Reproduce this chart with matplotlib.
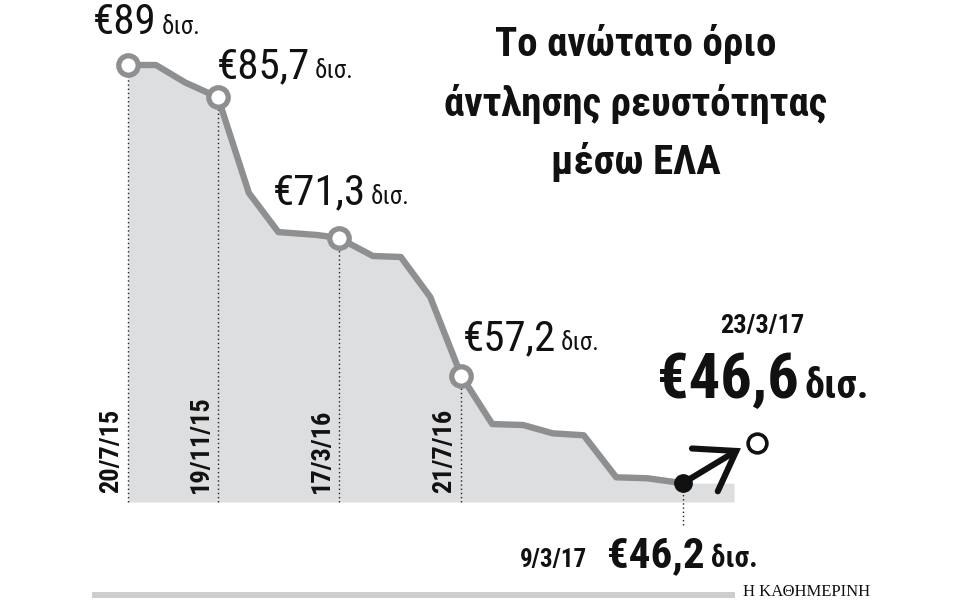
import matplotlib
matplotlib.use("Agg")
import matplotlib.pyplot as plt
from matplotlib import font_manager
from matplotlib.transforms import offset_copy
from matplotlib.patches import Rectangle

# ELA ceiling (bn euro), points along the line, spaced by decision
steps = [0, 0.9, 1.85, 2.9, 3.9, 4.85, 6.1, 6.8, 7.9, 8.8, 9.75,
         10.75, 11.75, 12.75, 13.7, 14.7, 15.75, 16.75, 17.9]
ela = [89.0, 89.0, 87.2, 85.7, 75.9, 71.9, 71.6, 71.3, 69.45, 69.35, 65.25,
       57.2, 52.25, 52.15, 51.3, 51.1, 46.8, 46.7, 46.2]
fill_end = 19.55
base = 44.27

marked = [0, 3, 7, 11]
mark_dates = ["20/7/15", "19/11/15", "17/3/16", "21/7/16"]
mark_vals = ["€89", "€85,7", "€71,3", "€57,2"]
last_date = "9/3/17"
last_val = "€46,2"
new_date = "23/3/17"
new_val = "€46,6"
unit = "δισ."
title_lines = ["Το ανώτατο όριο", "άντλησης ρευστότητας", "μέσω ΕΛΑ"]
source = "Η ΚΑΘΗΜΕΡΙΝΗ"


def pick(*names):
    have = {f.name for f in font_manager.fontManager.ttflist}
    for n in names:
        if n in have:
            return n
    return "DejaVu Sans"


narrow = pick("Liberation Sans Narrow", "DejaVu Sans Condensed", "Roboto Condensed", "Liberation Sans")
serif = pick("Liberation Serif", "DejaVu Serif")

W, H = 960, 600
fig = plt.figure(figsize=(9.6, 6), dpi=100)
ax = fig.add_axes([0, 0, 1, 1])
ax.set_xlim(-128 / 31, (W - 128) / 31)
ax.set_ylim(89 - 535 / 9.77, 89 + 65 / 9.77)
ax.axis("off")
renderer = fig.canvas.get_renderer()


def fpx(x, y):
    return x / W, 1 - y / H


def shifted(dx, dy):
    return offset_copy(ax.transData, fig=fig, x=dx, y=dy, units="dots")


def value_label(x, y, value, size, usize, bold=False, gap=6):
    w = "bold" if bold else "normal"
    t = fig.text(*fpx(x, y), value, fontsize=size, fontweight=w, family=narrow,
                 color="#111111", va="baseline")
    x1 = t.get_window_extent(renderer).x1
    fig.text((x1 + gap) / W, 1 - y / H, unit, fontsize=usize, fontweight=w,
             family=narrow, color="#111111", va="baseline")


grey = "#8e8f91"
ax.fill_between(steps + [fill_end], ela + [ela[-1]], base, color="#dddee0", lw=0, zorder=1)

for i in marked:
    ax.vlines(steps[i], base, ela[i], colors="#222222", linestyles=(0, (1, 2)), lw=1.0, zorder=2)
ax.vlines(steps[-1], base - 2.4, ela[-1], colors="#222222", linestyles=(0, (1, 2)), lw=1.0, zorder=2)

ax.plot(steps, ela, color=grey, lw=4.6, solid_joinstyle="round", solid_capstyle="round", zorder=3)
ax.plot([steps[i] for i in marked], [ela[i] for i in marked], "o", ms=14, mfc="white",
        mec=grey, mew=3.8, zorder=4)
ax.plot(steps[-1], ela[-1], "o", ms=12.5, color="#111111", zorder=5)

# arrow to the new ceiling
ax.annotate("", xy=(steps[-1], ela[-1]), xycoords=shifted(58, 35),
            xytext=(steps[-1], ela[-1]), textcoords="data",
            arrowprops=dict(arrowstyle="->,head_length=1.1,head_width=0.75", lw=4.4,
                            color="#111111", shrinkA=0, shrinkB=0, mutation_scale=24,
                            capstyle="round", joinstyle="miter"),
            zorder=5)
ax.plot(steps[-1], ela[-1], "o", ms=13.5, mfc="white", mec="#111111", mew=2.6,
        transform=shifted(74, 40), zorder=5)

# rotated dates
for i, d in zip(marked, mark_dates):
    ax.text(steps[i], base, d, rotation=90, ha="center", va="bottom",
            fontsize=19, fontweight="bold", family=narrow, color="#111111",
            transform=shifted(-17, 9))

# value labels
val_pos = [(93, 34), (217, 78), (273, 204), (463, 350)]
for v, (x, y) in zip(mark_vals, val_pos):
    value_label(x, y, v, 31, 18, gap=5)

fig.text(*fpx(762, 333), new_date, fontsize=19, fontweight="bold", family=narrow,
         color="#111111", ha="center", va="baseline")
value_label(657, 398, new_val, 45, 29, bold=True)

fig.text(*fpx(520, 567), last_date, fontsize=18, fontweight="bold", family=narrow,
         color="#111111", va="baseline")
value_label(607, 567, last_val, 31, 21, bold=True)

# title
for t, y in zip(title_lines, [56, 116, 174]):
    fig.text(*fpx(636, y), t, fontsize=29.5, fontweight="bold", family=narrow,
             color="#111111", ha="center", va="baseline")

# bottom rule and source
fig.add_artist(Rectangle(fpx(92, 598), 643 / W, 6 / H, transform=fig.transFigure,
                         color="#cdcdcd", lw=0))
fig.text(*fpx(743, 596), source, fontsize=12, family=serif, color="#111111", va="baseline")

fig.savefig("out.png", dpi=100)
